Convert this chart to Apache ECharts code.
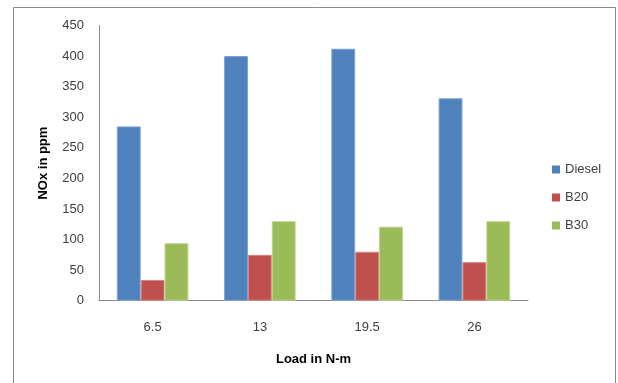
<!DOCTYPE html>
<html><head><meta charset="utf-8">
<script src="https://cdn.jsdelivr.net/npm/echarts@6/dist/echarts.min.js"></script>
<style>html,body{margin:0;padding:0;background:#fff}#c{width:618px;height:383px}</style>
</head><body><div id="c"></div>
<script>
const categories = ['6.5', '13', '19.5', '26'];
const diesel = [285, 400, 412, 331];
const b20 = [34, 75, 80, 63];
const b30 = [94, 130, 121, 130];
const seriesNames = ['Diesel', 'B20', 'B30'];
const colors = ['#4F81BD', '#C0504D', '#9BBB59'];
const borders = ['#7DA2D0', '#D58785', '#BCD38F'];
const yMin = 0, yMax = 450, yStep = 50;

const font = 'Liberation Sans';
const chart = echarts.init(document.getElementById('c'));
const data = [diesel, b20, b30];
chart.setOption({
  animation: false,
  backgroundColor: '#fff',
  textStyle: { fontFamily: font },
  graphic: [{
    type: 'rect', shape: { x: 13.5, y: 7.5, width: 602, height: 390 },
    style: { fill: 'none', stroke: '#8A8A8A', lineWidth: 1 }, silent: true
  }],
  grid: { left: 99, top: 25.5, width: 429, height: 275.2, containLabel: false },
  legend: {
    orient: 'vertical', left: 552, top: 163, padding: 0, itemWidth: 8, itemHeight: 8, itemGap: 15,
    icon: 'rect', itemStyle: { borderWidth: 0 },
    textStyle: { fontFamily: font, fontSize: 13, color: '#404040' },
    data: seriesNames
  },
  xAxis: {
    type: 'category', data: categories,
    name: 'Load in N-m', nameLocation: 'middle', nameGap: 52,
    nameTextStyle: { fontFamily: font, fontSize: 13, fontWeight: 'bold', color: '#000' },
    axisLine: { lineStyle: { color: '#8C8C8C' } },
    axisTick: { show: false },
    axisLabel: { fontFamily: font, fontSize: 13, color: '#404040', margin: 20 }
  },
  yAxis: {
    type: 'value', min: yMin, max: yMax, interval: yStep,
    name: 'NOx in ppm', nameLocation: 'middle', nameGap: 49, nameRotate: 90,
    nameTextStyle: { fontFamily: font, fontSize: 13, fontWeight: 'bold', color: '#000' },
    axisLine: { show: true, lineStyle: { color: '#8C8C8C' } },
    axisTick: { show: false },
    splitLine: { show: false },
    axisLabel: { fontFamily: font, fontSize: 13, color: '#404040', margin: 15 }
  },
  series: seriesNames.map((n, i) => ({
    name: n, type: 'bar', data: data[i],
    barGap: '0%', barCategoryGap: '33.3%',
    itemStyle: { color: colors[i], borderColor: borders[i], borderWidth: 1 }
  }))
});
</script></body></html>
